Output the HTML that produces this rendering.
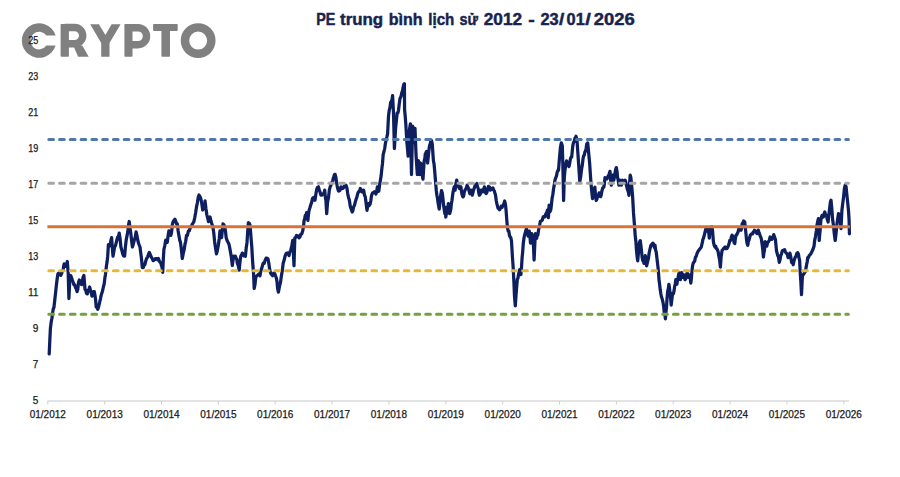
<!DOCTYPE html>
<html><head><meta charset="utf-8">
<style>
html,body{margin:0;padding:0;background:#fff;}
body{width:900px;height:477px;overflow:hidden;position:relative;}
svg{position:absolute;left:0;top:0;}
.ax text{font-family:"Liberation Sans",sans-serif;font-size:10px;fill:#202020;stroke:#202020;stroke-width:0.25px;}
.wm{font-family:"Liberation Sans",sans-serif;font-weight:bold;font-size:47px;fill:#808080;}
.title{font-family:"Liberation Sans",sans-serif;font-weight:bold;font-size:16.2px;fill:#18234f;stroke:#18234f;stroke-width:0.45px;}
</style></head><body>
<svg width="900" height="477" viewBox="0 0 900 477">
<rect width="900" height="477" fill="#fff"/>
<g fill="#808080">
<path d="M55.6,35.6 A17.25,17.25 0 1 0 55.6,45.6 L46.4,45.6 A8.8,8.8 0 1 1 46.4,35.6 Z"/>
<rect x="60.6" y="24" width="8.3" height="32.7" rx="0.8"/>
<path d="M64.75,27.45 H74.55 A8.175,8.175 0 0 1 74.55,43.8 H64.75" fill="none" stroke="#808080" stroke-width="7.4"/>
<polygon points="73.3,45.5 82.3,45.5 88.7,56.7 78.1,56.7"/>
<polygon points="90.2,24.2 98.9,24.2 105.4,35.1 111.6,24.2 120.6,24.2 109.5,43 109.5,56.7 101.2,56.7 101.2,43"/>
<rect x="124.4" y="24" width="8.1" height="32.7" rx="0.8"/>
<path d="M128.45,27.7 H138 A8.525,8.525 0 0 1 138,44.75 H128.45" fill="none" stroke="#808080" stroke-width="7.4"/>
<rect x="153.1" y="24" width="24.6" height="6.9" rx="0.8"/>
<rect x="161.4" y="24" width="8.6" height="32.7" rx="0.8"/>
<circle cx="198.15" cy="40.6" r="13.2" fill="none" stroke="#808080" stroke-width="8.4"/>
</g>
<text class="title" x="316.3" y="24.8" textLength="19.1" lengthAdjust="spacingAndGlyphs">PE</text>
<text class="title" x="340.0" y="24.8" textLength="43.2" lengthAdjust="spacingAndGlyphs">trung</text>
<text class="title" x="388.8" y="24.8" textLength="33.8" lengthAdjust="spacingAndGlyphs">bình</text>
<text class="title" x="428.3" y="24.8" textLength="26.0" lengthAdjust="spacingAndGlyphs">lịch</text>
<text class="title" x="459.4" y="24.8" textLength="18.5" lengthAdjust="spacingAndGlyphs">sử</text>
<text class="title" x="483.8" y="24.8" textLength="38.3" lengthAdjust="spacingAndGlyphs">2012</text>
<text class="title" x="528.3" y="24.8" textLength="6.5" lengthAdjust="spacingAndGlyphs">-</text>
<text class="title" x="540.5" y="24.8" textLength="18.2" lengthAdjust="spacingAndGlyphs">23</text>
<text class="title" x="559.0" y="24.8" textLength="5.3" lengthAdjust="spacingAndGlyphs">/</text>
<text class="title" x="566.6" y="24.8" textLength="18.2" lengthAdjust="spacingAndGlyphs">01</text>
<text class="title" x="585.2" y="24.8" textLength="5.6" lengthAdjust="spacingAndGlyphs">/</text>
<text class="title" x="593.8" y="24.8" textLength="41.0" lengthAdjust="spacingAndGlyphs">2026</text>

<line x1="47.5" y1="401" x2="849" y2="401" stroke="#e3e3e3" stroke-width="2"/>
<line x1="47.8" y1="401" x2="47.8" y2="404.5" stroke="#d0d0d0" stroke-width="1"/>
<line x1="104.7" y1="401" x2="104.7" y2="404.5" stroke="#d0d0d0" stroke-width="1"/>
<line x1="161.5" y1="401" x2="161.5" y2="404.5" stroke="#d0d0d0" stroke-width="1"/>
<line x1="218.4" y1="401" x2="218.4" y2="404.5" stroke="#d0d0d0" stroke-width="1"/>
<line x1="275.2" y1="401" x2="275.2" y2="404.5" stroke="#d0d0d0" stroke-width="1"/>
<line x1="332.1" y1="401" x2="332.1" y2="404.5" stroke="#d0d0d0" stroke-width="1"/>
<line x1="388.9" y1="401" x2="388.9" y2="404.5" stroke="#d0d0d0" stroke-width="1"/>
<line x1="445.8" y1="401" x2="445.8" y2="404.5" stroke="#d0d0d0" stroke-width="1"/>
<line x1="502.7" y1="401" x2="502.7" y2="404.5" stroke="#d0d0d0" stroke-width="1"/>
<line x1="559.5" y1="401" x2="559.5" y2="404.5" stroke="#d0d0d0" stroke-width="1"/>
<line x1="616.4" y1="401" x2="616.4" y2="404.5" stroke="#d0d0d0" stroke-width="1"/>
<line x1="673.2" y1="401" x2="673.2" y2="404.5" stroke="#d0d0d0" stroke-width="1"/>
<line x1="730.1" y1="401" x2="730.1" y2="404.5" stroke="#d0d0d0" stroke-width="1"/>
<line x1="786.9" y1="401" x2="786.9" y2="404.5" stroke="#d0d0d0" stroke-width="1"/>
<line x1="843.8" y1="401" x2="843.8" y2="404.5" stroke="#d0d0d0" stroke-width="1"/>

<polyline points="49.2,353.9 49.8,340.6 50.4,328.5 51.2,321.9 51.9,318.3 52.7,312.4 53.3,308.6 53.9,307.7 54.8,299.8 55.7,291.6 56.5,284.2 57.3,277.7 57.9,273.9 58.5,273.1 59.3,273.9 60.0,273.1 60.8,275.4 61.6,273.6 62.3,270.9 63.1,270.8 63.7,266.0 64.2,263.9 65.1,264.8 65.9,266.2 66.6,265.0 67.3,261.5 68.2,273.1 68.9,298.5 70.0,275.4 70.8,275.7 71.5,277.5 72.3,280.0 73.1,282.0 73.8,284.6 74.6,284.6 75.4,287.2 76.2,288.9 77.0,291.6 77.8,289.4 78.5,282.3 79.3,280.0 80.1,282.8 80.8,282.4 81.6,284.6 82.4,280.3 83.1,277.2 83.9,275.4 85.0,289.3 85.8,290.2 86.5,293.4 87.3,293.9 88.1,290.5 88.9,289.6 89.7,287.0 90.5,290.5 91.2,292.7 92.0,296.2 92.8,294.8 93.5,291.6 94.3,291.6 95.0,295.5 95.6,299.8 96.2,307.0 97.0,307.2 97.8,309.3 98.7,306.5 99.6,302.4 100.4,299.1 101.1,295.6 101.9,293.1 102.7,290.3 103.4,286.8 104.2,283.9 104.8,278.6 105.4,274.7 106.5,265.4 107.1,261.8 107.7,256.2 108.4,244.6 109.2,245.9 110.0,245.8 110.8,240.9 111.6,237.7 112.3,247.2 113.0,256.2 113.8,251.7 114.6,247.0 115.4,245.9 116.1,243.1 116.9,240.0 117.7,237.0 118.4,237.0 119.2,233.1 120.1,238.8 120.9,247.0 121.8,250.2 122.7,253.9 123.7,255.9 124.6,256.2 125.4,246.9 126.2,240.0 127.0,235.9 127.8,231.9 128.5,225.1 129.2,221.5 130.0,227.9 130.8,233.1 131.6,240.9 132.4,247.0 133.4,243.7 134.3,240.0 135.2,237.2 136.1,231.9 136.9,235.3 137.7,240.0 138.5,243.0 139.2,245.0 140.0,247.0 140.6,251.9 141.2,256.2 141.8,261.8 142.3,267.7 143.2,267.7 144.0,265.4 144.9,264.6 145.8,260.8 146.7,258.4 147.7,256.8 148.6,253.9 149.3,252.4 150.0,253.9 150.8,256.1 151.5,257.5 152.3,258.5 153.1,260.6 153.8,260.4 154.6,259.7 155.4,258.6 156.1,258.5 156.9,258.5 157.7,259.8 158.4,258.4 159.2,260.8 160.0,262.2 160.7,262.8 161.5,265.5 162.1,267.6 162.7,272.4 163.3,259.4 163.9,249.3 164.8,245.6 165.7,240.0 166.5,239.9 167.3,242.4 168.1,235.7 168.9,230.8 169.9,232.7 170.8,235.4 171.6,232.1 172.3,224.8 173.1,221.6 174.0,220.3 174.9,219.3 175.7,221.0 176.5,223.7 177.3,223.9 178.1,230.7 178.9,235.4 179.7,240.1 180.5,242.4 181.4,249.7 182.3,258.5 183.2,253.6 184.2,249.3 185.0,244.2 185.7,241.3 186.5,235.4 187.4,235.4 188.4,231.1 189.3,230.8 190.1,228.2 190.8,226.8 191.6,226.2 192.4,223.8 193.1,223.1 193.9,221.6 194.8,217.3 195.7,212.3 196.5,206.9 197.3,203.1 198.2,197.4 199.0,195.0 199.9,196.5 200.8,198.5 201.8,203.8 202.7,210.0 203.5,207.9 204.2,206.9 205.0,203.1 205.0,200.8 205.9,208.3 206.8,214.6 207.7,218.2 208.5,221.6 209.3,219.7 210.1,217.0 211.0,221.0 211.9,223.9 212.9,227.0 213.8,233.1 214.6,241.4 215.4,247.0 216.5,253.9 217.4,250.3 218.4,244.7 219.2,239.0 220.0,230.8 220.8,235.3 221.6,237.7 222.3,230.4 223.0,223.9 223.8,224.7 224.6,226.2 225.4,230.6 226.2,237.7 227.1,240.5 228.1,242.4 228.9,244.0 229.6,247.1 230.4,251.6 231.4,257.6 232.3,265.5 233.1,259.7 233.9,256.2 234.7,256.4 235.4,256.2 236.2,258.5 236.8,259.1 237.3,263.1 238.2,265.4 239.2,270.1 240.0,261.8 240.8,256.2 241.6,255.0 242.3,253.1 243.1,253.9 243.9,255.9 244.6,255.8 245.4,256.2 246.2,248.1 247.0,242.4 247.7,231.7 248.4,222.7 249.2,223.3 250.0,225.0 250.6,232.0 251.2,240.0 251.8,246.8 252.3,256.2 252.9,265.5 253.5,272.4 254.2,288.5 255.0,284.4 255.8,277.0 256.6,276.1 257.3,275.4 258.1,274.7 259.1,273.8 260.0,275.7 260.8,271.0 261.7,268.4 262.5,265.6 263.3,263.1 264.2,263.4 265.0,260.6 266.1,258.2 267.1,258.1 268.0,259.0 268.8,263.1 269.7,269.7 270.6,273.2 271.6,274.5 272.6,275.7 273.6,273.2 274.6,273.2 275.5,275.8 276.4,278.2 277.0,281.6 277.6,288.3 278.4,292.1 279.0,289.0 279.6,285.8 280.5,282.4 281.4,275.7 282.3,270.6 283.2,263.1 284.2,260.0 285.2,255.6 286.2,253.5 287.2,253.0 288.1,253.8 289.0,255.6 289.9,251.9 290.7,250.5 291.7,246.4 292.7,240.5 293.4,253.2 294.0,265.6 294.8,237.9 295.6,237.6 296.5,235.4 297.3,235.7 298.2,236.1 299.0,237.9 299.9,237.1 300.8,234.2 301.8,233.9 302.8,230.4 303.5,226.5 304.1,220.3 304.7,218.8 305.3,215.3 306.0,215.1 306.6,212.7 307.2,217.3 307.9,220.3 308.5,214.3 309.1,210.2 309.9,207.8 310.8,204.7 311.6,202.7 312.5,198.5 313.4,197.6 314.2,197.3 315.0,200.3 315.9,194.1 316.7,189.4 317.5,187.3 318.4,186.8 319.2,190.0 320.0,191.9 320.9,195.1 321.7,195.2 322.5,194.2 323.4,193.6 324.0,193.4 324.7,190.2 325.3,196.9 325.9,200.3 326.7,213.7 327.6,201.9 328.5,197.6 329.3,190.2 330.1,187.2 330.9,185.2 331.8,182.5 332.6,181.8 333.2,178.4 333.8,176.8 334.5,174.5 335.1,174.3 335.8,177.0 336.5,181.8 337.1,185.6 337.7,188.5 338.5,191.1 339.3,191.0 340.1,190.1 341.0,186.8 341.9,187.6 342.7,188.5 343.5,187.8 344.4,186.0 345.2,186.6 346.0,185.2 346.9,188.0 347.7,193.6 348.5,197.5 349.4,200.3 350.2,205.9 351.1,208.7 352.2,212.0 352.9,210.5 353.6,207.0 354.5,205.3 355.3,201.9 356.1,199.3 356.9,196.9 357.8,193.3 358.6,191.9 359.5,191.2 360.3,188.5 361.1,189.6 362.0,191.9 362.9,192.1 363.7,190.2 364.5,195.2 365.3,196.9 366.1,203.2 367.0,210.3 367.7,206.6 368.4,203.6 369.2,205.5 370.0,204.4 370.8,200.8 371.5,195.6 372.5,193.0 373.5,192.6 374.3,191.8 375.1,192.4 375.9,194.1 376.6,191.8 377.4,186.8 378.1,190.0 378.8,191.2 379.6,184.8 380.3,180.9 381.1,176.1 381.8,169.1 382.5,163.4 383.2,154.4 383.9,152.0 384.7,148.5 385.4,143.6 386.2,139.7 386.9,136.9 387.6,133.8 388.5,116.2 389.2,110.5 390.0,107.4 390.6,102.8 391.2,101.5 391.9,100.2 392.6,95.6 393.5,113.2 394.4,148.5 395.0,138.7 395.6,127.9 396.4,120.6 397.1,113.2 397.8,113.2 398.5,110.3 399.2,104.2 400.0,98.5 400.9,96.8 401.8,92.6 402.5,90.8 403.2,86.8 403.8,84.3 404.4,83.8 404.6,110.0 405.2,116.1 405.8,123.8 406.9,142.3 407.5,148.5 408.1,156.1 409.2,133.0 409.8,127.5 410.4,123.8 410.9,149.4 411.5,174.5 412.1,149.5 412.7,126.1 413.2,133.9 413.8,142.3 414.4,134.1 415.0,128.4 415.6,143.6 416.1,156.1 416.7,164.8 417.3,174.5 418.4,160.7 419.0,167.5 419.6,174.5 420.7,163.0 421.3,166.7 421.9,169.9 422.4,175.9 423.0,179.1 423.6,169.6 424.2,160.7 424.8,158.7 425.3,153.8 425.9,152.7 426.5,151.5 427.1,157.4 427.6,163.0 428.2,157.3 428.8,151.5 429.4,146.4 430.0,144.6 430.6,142.1 431.1,140.0 431.7,141.2 432.3,144.6 433.4,160.7 434.0,163.6 434.6,169.9 435.7,183.7 436.3,190.5 436.9,195.3 437.4,197.6 438.0,202.2 438.6,205.6 439.2,209.1 439.8,204.1 440.3,197.6 440.9,194.3 441.5,190.6 442.1,192.4 442.6,195.3 443.2,201.1 443.8,206.8 444.9,213.7 445.0,207.0 445.8,217.0 446.4,213.8 447.0,210.3 447.7,207.9 448.4,203.6 449.0,207.3 449.7,213.7 450.3,211.4 450.9,208.7 451.4,203.6 452.0,200.3 452.6,195.3 453.1,191.9 454.2,186.8 455.1,190.2 455.9,183.5 456.7,180.1 457.4,183.6 458.1,185.2 458.7,186.9 459.3,188.5 460.1,187.9 460.9,186.8 461.8,193.6 462.5,196.1 463.1,196.9 463.7,195.8 464.3,191.9 465.1,190.0 466.0,188.5 466.6,187.2 467.1,185.2 467.8,186.9 468.5,188.5 469.1,191.1 469.8,193.6 470.4,192.6 471.0,190.2 471.6,192.5 472.2,195.2 472.9,192.8 473.5,190.2 474.4,187.6 475.2,185.2 476.0,185.9 476.9,183.5 477.5,186.7 478.2,188.5 478.8,193.1 479.4,195.2 480.2,194.2 481.1,190.2 482.0,190.2 482.8,191.9 483.6,189.6 484.4,186.8 485.2,191.7 486.1,193.6 487.0,192.2 487.8,188.5 488.4,186.4 489.0,186.8 489.6,187.2 490.3,190.2 491.1,189.2 492.0,188.5 492.9,187.9 493.7,190.2 494.4,191.0 495.0,193.6 495.6,195.5 496.2,200.3 496.8,203.4 497.3,205.3 498.0,208.0 498.7,208.7 499.5,209.8 500.4,208.3 501.2,206.3 502.0,207.4 502.8,205.8 503.8,203.9 504.7,201.0 505.4,204.0 506.0,209.5 506.9,221.5 507.6,228.7 508.2,231.2 508.8,231.1 509.5,235.6 510.2,237.0 510.9,238.0 511.5,241.0 512.3,255.0 513.2,268.0 513.9,282.0 514.5,296.2 515.3,305.8 516.3,291.4 517.3,279.3 517.9,278.4 518.5,274.5 519.1,271.8 519.7,269.7 520.3,272.1 520.9,274.5 521.5,267.8 522.1,257.7 522.7,251.6 523.3,243.2 524.1,237.2 525.0,233.6 525.7,230.9 526.4,228.7 527.2,232.4 528.1,236.0 528.7,233.0 529.3,231.1 529.9,236.1 530.5,243.2 531.1,237.8 531.7,233.6 532.3,235.6 532.9,236.0 533.5,246.4 534.1,260.0 534.7,247.0 535.3,233.6 536.0,235.8 536.6,238.4 537.2,235.2 537.8,235.3 538.4,231.0 539.0,227.8 539.6,225.1 540.3,221.5 541.3,220.9 542.3,220.2 543.2,216.8 544.1,216.4 545.0,216.8 545.8,213.9 546.6,213.0 547.4,210.2 548.4,217.7 549.1,205.1 550.0,211.8 550.8,209.6 551.5,204.2 552.1,198.2 552.8,194.8 553.5,189.3 554.2,185.4 555.0,180.0 555.7,177.8 556.5,175.9 557.2,172.2 557.9,170.5 558.5,170.3 559.4,159.0 560.4,147.6 561.3,142.9 562.3,145.8 562.8,162.7 563.6,200.5 564.3,177.8 564.9,170.9 565.5,166.5 566.0,163.4 566.6,160.8 567.2,164.1 567.9,164.6 568.9,166.5 569.6,163.8 570.4,159.0 571.0,157.2 571.7,157.1 572.6,147.6 573.2,143.6 573.8,142.0 574.3,141.5 574.9,138.2 575.5,137.5 576.0,136.3 577.0,140.1 577.9,153.3 578.9,168.4 579.8,181.6 580.8,175.9 581.7,168.4 582.4,164.4 583.0,159.0 583.6,155.7 584.3,155.2 584.9,151.8 585.5,151.4 586.1,148.3 586.8,143.9 587.7,142.9 588.7,153.3 589.6,162.7 590.6,177.8 591.5,189.2 592.5,198.6 593.1,195.5 593.8,192.9 594.3,188.6 594.9,187.3 595.5,195.4 596.2,200.5 596.9,199.1 597.5,196.7 598.3,195.8 599.1,192.9 599.9,193.4 600.6,196.7 601.2,195.1 601.9,191.0 602.8,187.7 603.8,187.3 604.4,183.7 605.0,177.6 606.0,178.1 607.0,178.9 607.9,176.5 608.8,175.1 609.4,173.4 610.0,171.3 610.6,179.7 611.3,185.2 612.0,179.4 612.6,175.1 613.2,176.4 613.8,180.2 614.5,176.5 615.1,172.6 615.7,169.2 616.3,167.6 617.0,171.3 617.6,177.6 618.2,180.2 618.9,185.2 619.5,181.2 620.1,180.2 620.8,181.7 621.4,185.2 622.0,182.1 622.6,180.2 623.2,180.8 623.9,182.7 624.5,182.3 625.2,180.2 625.8,182.0 626.4,185.2 627.0,187.7 627.7,190.2 628.3,191.7 628.9,195.3 629.5,184.7 630.2,175.1 630.8,177.3 631.4,182.7 632.0,189.4 632.7,197.8 633.5,212.9 634.5,225.5 635.2,235.6 635.9,241.5 636.5,250.7 637.1,256.5 637.7,260.8 638.4,253.4 639.0,245.6 639.6,242.0 640.3,240.6 640.9,245.6 641.5,250.7 642.1,257.2 642.8,260.8 643.4,260.7 644.0,263.3 644.6,260.6 645.3,255.7 646.0,260.5 646.6,265.8 647.2,263.3 647.8,260.8 648.5,258.1 649.1,253.2 650.0,249.0 650.8,245.6 651.8,244.4 652.9,243.1 653.9,246.3 654.9,248.2 655.0,245.0 655.6,250.1 656.2,252.0 657.3,261.2 657.9,266.4 658.5,272.7 659.0,279.6 659.6,284.3 660.2,289.6 660.8,293.5 661.3,296.3 661.9,298.1 662.5,300.1 663.1,302.8 663.7,306.9 664.2,312.0 664.8,313.9 665.4,318.9 666.0,311.9 666.5,307.4 667.1,297.8 667.7,291.2 668.3,288.6 668.9,284.3 669.5,288.1 670.0,293.5 670.6,298.2 671.2,305.1 672.3,295.8 672.9,293.2 673.5,293.5 674.0,291.2 674.6,286.6 675.2,284.4 675.8,279.7 676.3,282.6 676.9,284.3 677.5,280.1 678.1,277.4 678.7,274.2 679.2,272.7 679.8,275.5 680.4,279.7 681.0,276.1 681.6,272.7 682.2,273.9 682.7,277.4 683.3,276.0 683.9,275.0 684.5,276.5 685.0,279.7 685.6,278.9 686.2,275.0 687.3,272.7 687.9,276.7 688.5,277.4 689.0,276.4 689.6,275.0 690.2,278.2 690.8,283.1 691.4,278.3 692.0,270.4 692.5,266.3 693.1,263.5 693.9,261.9 694.7,261.2 695.4,257.2 696.1,256.6 696.9,253.9 697.7,252.0 698.5,250.7 699.3,249.6 700.2,248.5 701.2,247.3 702.3,242.7 702.9,239.4 703.5,238.1 704.1,235.8 704.7,233.5 705.8,228.9 706.4,228.4 707.0,231.2 707.5,229.2 708.1,228.9 708.7,232.1 709.3,238.1 710.0,228.5 710.6,227.3 711.3,226.8 711.9,226.9 712.5,230.2 713.4,241.9 714.2,245.3 715.0,247.0 715.7,246.2 716.4,248.7 717.0,248.8 717.6,250.3 718.2,251.9 718.7,255.4 719.7,260.4 720.4,267.1 721.1,257.0 722.1,250.3 722.8,249.8 723.4,248.7 724.2,247.9 725.1,247.0 726.0,248.7 726.8,248.7 727.6,247.5 728.5,245.3 729.1,243.5 729.8,240.3 730.4,240.7 731.0,238.6 731.5,236.5 732.1,235.2 732.8,236.3 733.5,238.6 734.1,242.7 734.8,243.6 735.4,238.2 736.0,235.2 736.6,235.2 737.2,233.6 737.9,232.4 738.5,230.2 739.2,227.4 739.9,227.7 740.5,230.1 741.0,230.2 741.6,228.2 742.2,223.5 742.9,222.7 743.6,221.0 744.2,222.2 744.7,221.8 745.6,230.2 746.6,240.3 747.2,243.9 747.8,245.3 748.3,241.6 748.9,240.3 749.6,237.8 750.3,235.2 751.1,234.4 751.9,233.6 752.6,233.9 753.3,231.9 753.9,232.1 754.5,230.2 755.0,231.7 755.6,231.0 756.3,232.6 757.0,233.6 757.6,233.2 758.3,230.2 758.9,232.5 759.5,233.6 760.1,235.9 760.7,236.9 761.4,239.3 762.0,243.6 762.7,248.7 763.4,257.0 764.0,252.4 764.5,250.3 765.0,241.6 765.9,243.4 766.8,246.2 767.6,242.6 768.5,241.6 769.3,240.4 770.1,237.0 771.0,238.3 771.9,239.3 772.8,237.4 773.8,234.6 774.6,237.4 775.4,239.3 776.0,245.7 776.5,250.8 777.1,253.1 777.7,255.4 778.5,257.2 779.3,262.4 780.0,259.9 780.7,255.4 781.5,253.9 782.3,250.8 783.1,250.4 783.8,250.2 784.6,249.7 785.4,251.9 786.2,253.1 787.2,253.9 788.1,257.7 789.0,256.2 789.9,253.1 790.8,256.9 791.6,262.4 792.4,262.1 793.2,264.7 794.1,260.4 795.0,257.7 796.0,256.2 796.9,253.1 797.7,252.7 798.5,254.3 799.0,258.0 799.6,260.0 800.2,272.0 800.8,280.8 801.5,294.7 802.4,276.2 803.1,275.0 803.8,273.9 804.6,272.4 805.4,271.6 806.0,268.1 806.6,264.7 807.2,261.8 807.7,257.7 808.5,257.5 809.3,255.4 810.2,254.6 811.2,253.1 812.3,250.8 813.1,249.0 814.0,246.2 814.7,240.2 815.4,237.1 816.4,230.4 817.0,225.0 817.6,222.0 818.4,218.7 819.2,240.5 820.1,230.4 820.9,220.3 821.5,217.0 822.1,215.3 822.8,217.0 823.4,217.0 824.1,213.8 824.8,211.9 825.3,213.8 825.9,215.3 826.5,215.3 827.1,218.7 828.1,222.0 828.8,215.3 829.8,206.9 830.4,202.1 831.0,200.2 831.8,208.6 832.7,220.3 833.5,225.4 834.3,233.8 835.2,240.5 836.0,233.8 836.8,225.4 837.7,218.7 838.5,213.6 839.4,215.3 840.2,220.3 841.0,228.7 841.9,210.3 842.7,203.6 843.6,196.8 844.4,188.5 845.2,185.1 846.1,186.8 846.9,195.2 847.8,203.6 848.6,211.9 849.1,220.3 849.4,233.8" fill="none" stroke="#0e1f60" stroke-width="3.25" stroke-linejoin="round" stroke-linecap="round"/>
<line x1="48.8" y1="139.5" x2="848.4" y2="139.5" stroke="#5076ac" stroke-width="3" stroke-dasharray="4.7 6.07" stroke-linecap="round"/>
<line x1="48.8" y1="183.3" x2="848.4" y2="183.3" stroke="#a5a5a5" stroke-width="3" stroke-dasharray="4.7 6.07" stroke-linecap="round"/>
<line x1="47.4" y1="226.7" x2="849.9" y2="226.7" stroke="#d6733a" stroke-width="2.9" stroke-linecap="butt"/>
<line x1="48.8" y1="270.75" x2="848.4" y2="270.75" stroke="#e6b835" stroke-width="3" stroke-dasharray="4.7 6.07" stroke-linecap="round"/>
<line x1="48.8" y1="314.35" x2="848.4" y2="314.35" stroke="#74a03e" stroke-width="3" stroke-dasharray="4.7 6.07" stroke-linecap="round"/>
<g class="ax">
<text x="38.3" y="403.7" text-anchor="end">5</text>
<text x="38.3" y="367.7" text-anchor="end">7</text>
<text x="38.3" y="331.7" text-anchor="end">9</text>
<text x="38.3" y="295.7" text-anchor="end" textLength="10" lengthAdjust="spacingAndGlyphs">11</text>
<text x="38.3" y="259.7" text-anchor="end" textLength="10" lengthAdjust="spacingAndGlyphs">13</text>
<text x="38.3" y="223.7" text-anchor="end" textLength="10" lengthAdjust="spacingAndGlyphs">15</text>
<text x="38.3" y="187.7" text-anchor="end" textLength="10" lengthAdjust="spacingAndGlyphs">17</text>
<text x="38.3" y="151.7" text-anchor="end" textLength="10" lengthAdjust="spacingAndGlyphs">19</text>
<text x="38.3" y="115.7" text-anchor="end" textLength="10" lengthAdjust="spacingAndGlyphs">21</text>
<text x="38.3" y="79.7" text-anchor="end" textLength="10" lengthAdjust="spacingAndGlyphs">23</text>
<text x="38.3" y="43.7" text-anchor="end" textLength="10" lengthAdjust="spacingAndGlyphs">25</text>

<text x="47.8" y="417.5" text-anchor="middle">01/2012</text>
<text x="104.7" y="417.5" text-anchor="middle">01/2013</text>
<text x="161.5" y="417.5" text-anchor="middle">01/2014</text>
<text x="218.4" y="417.5" text-anchor="middle">01/2015</text>
<text x="275.2" y="417.5" text-anchor="middle">01/2016</text>
<text x="332.1" y="417.5" text-anchor="middle">01/2017</text>
<text x="388.9" y="417.5" text-anchor="middle">01/2018</text>
<text x="445.8" y="417.5" text-anchor="middle">01/2019</text>
<text x="502.7" y="417.5" text-anchor="middle">01/2020</text>
<text x="559.5" y="417.5" text-anchor="middle">01/2021</text>
<text x="616.4" y="417.5" text-anchor="middle">01/2022</text>
<text x="673.2" y="417.5" text-anchor="middle">01/2023</text>
<text x="730.1" y="417.5" text-anchor="middle">01/2024</text>
<text x="786.9" y="417.5" text-anchor="middle">01/2025</text>
<text x="843.8" y="417.5" text-anchor="middle">01/2026</text>

</g>
</svg>
</body></html>
